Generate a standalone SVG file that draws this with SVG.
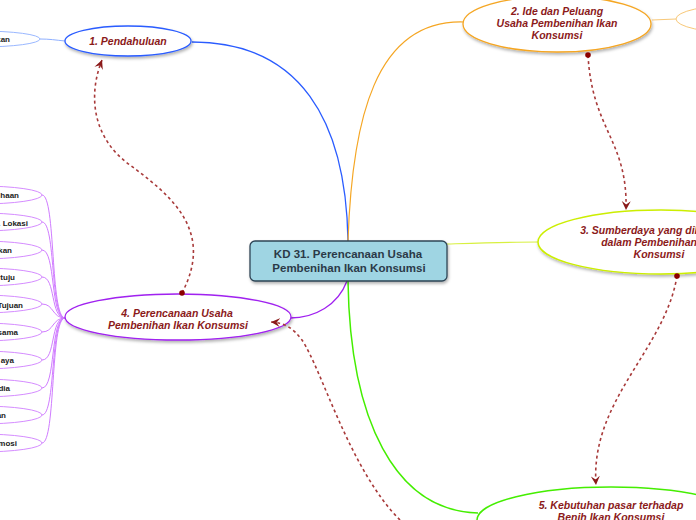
<svg xmlns="http://www.w3.org/2000/svg" width="696" height="520" viewBox="0 0 696 520">
<style>
.t{font-family:"Liberation Sans",Arial,sans-serif;font-weight:bold;font-style:italic;font-size:10.5px;fill:#8b1a1a;text-anchor:middle}
.c{font-family:"Liberation Sans",Arial,sans-serif;font-weight:bold;font-size:11.5px;fill:#2b3a48;text-anchor:middle}
.l{font-family:"Liberation Sans",Arial,sans-serif;font-weight:bold;font-size:8px;fill:#222;text-anchor:end}
.n{fill:#fff;filter:url(#sh)}
.lf{fill:#fff;stroke:#d58cff;stroke-width:1}
.pl{fill:none;stroke:#d07cff;stroke-width:1}
.d{fill:none;stroke:#a83a3a;stroke-width:1.6;stroke-dasharray:3 3}
.dot{fill:#8b0000}
</style>
<defs>
<filter id="sh" x="-10%" y="-20%" width="120%" height="150%">
<feDropShadow dx="1" dy="2" stdDeviation="1.5" flood-color="#000" flood-opacity="0.3"/>
</filter>
<marker id="ar" viewBox="0 0 10 10" refX="8" refY="5" markerWidth="7" markerHeight="7" orient="auto-start-reverse">
<path d="M0,1 L8,5 L0,9 L3,5 Z" fill="#8b1a1a"/>
</marker>
</defs>
<g id="connectors">
<path d="M348,241 C 346,120 300,42 192,42" fill="none" stroke="#2a5cff" stroke-width="1.3"/>
<path d="M65,41 C 55,40 50,39 40,39" fill="none" stroke="#8fb0ff" stroke-width="1"/>
<path d="M348,241 C 352,120 375,20 463,22" fill="none" stroke="#f5a623" stroke-width="1.2"/>
<path d="M652,20 L676,19" fill="none" stroke="#f8c878" stroke-width="1"/>
<path d="M447,244 C 480,243 510,242 538,242" fill="none" stroke="#d8f040" stroke-width="1.2"/>
<path d="M347,281 C 338,305 315,318 290,318" fill="none" stroke="#a020f0" stroke-width="1.3"/>
<path d="M348,281 C 350,420 395,511 478,513" fill="none" stroke="#44ee00" stroke-width="1.5"/>
<path class="pl" d="M65,318 C 50,318 56,195 42,195"/>
<path class="pl" d="M65,318 C 50,318 56,222 42,222"/>
<path class="pl" d="M65,318 C 50,318 56,250 42,250"/>
<path class="pl" d="M65,318 C 50,318 56,277 42,277"/>
<path class="pl" d="M65,318 C 52,318 54,304 42,304"/>
<path class="pl" d="M65,318 C 52,318 54,332 42,332"/>
<path class="pl" d="M65,318 C 50,318 56,360 42,360"/>
<path class="pl" d="M65,318 C 50,318 56,388 42,388"/>
<path class="pl" d="M65,318 C 50,318 56,415 42,415"/>
<path class="pl" d="M65,318 C 50,318 56,443 42,443"/>
</g>
<g id="center">
<rect x="250" y="241" width="197" height="40" rx="5" fill="#9fd5e3" stroke="#2e4556" stroke-width="1.3" filter="url(#sh)"/>
<text class="c" x="348" y="258">KD 31. Perencanaan Usaha</text>
<text class="c" x="349" y="272">Pembenihan Ikan Konsumsi</text>
</g>
<g id="node1">
<ellipse class="n" cx="128" cy="41" rx="63" ry="15" stroke="#2a5cff" stroke-width="1.3"/>
<text class="t" x="128" y="45">1. Pendahuluan</text>
</g>
<g id="node1-leaf">
<ellipse cx="-20" cy="39" rx="60" ry="8" fill="#fff" stroke="#9ab8ff" stroke-width="1"/>
<text class="l" x="10" y="42">kan</text>
</g>
<g id="node2">
<ellipse class="n" cx="557" cy="24" rx="94" ry="28" stroke="#f5a623" stroke-width="1.3"/>
<text class="t" x="557" y="15">2. Ide dan Peluang</text>
<text class="t" x="557" y="27">Usaha Pembenihan Ikan</text>
<text class="t" x="557" y="39">Konsumsi</text>
</g>
<g id="node2-leaf">
<ellipse cx="740" cy="19" rx="64" ry="14" fill="#fff" stroke="#f8c878" stroke-width="1"/>
</g>
<g id="node3">
<ellipse class="n" cx="661" cy="242" rx="123" ry="32" stroke="#ccee00" stroke-width="1.5"/>
<text class="t" x="661" y="234">3. Sumberdaya yang dibutuhkan</text>
<text class="t" x="661" y="246">dalam Pembenihan Ikan</text>
<text class="t" x="659" y="258">Konsumsi</text>
</g>
<g id="node4">
<ellipse class="n" cx="178" cy="317" rx="113" ry="23" stroke="#a020f0" stroke-width="1.3"/>
<text class="t" x="177" y="317">4. Perencanaan Usaha</text>
<text class="t" x="178" y="329">Pembenihan Ikan Konsumsi</text>
</g>
<g id="node5">
<ellipse class="n" cx="611" cy="520" rx="134" ry="33" stroke="#44ee00" stroke-width="1.5"/>
<text class="t" x="611" y="509">5. Kebutuhan pasar terhadap</text>
<text class="t" x="611" y="521">Benih Ikan Konsumsi</text>
</g>
<g id="leaves4">
<ellipse class="lf" cx="-20" cy="195" rx="62" ry="9"/><text class="l" x="19" y="198">haan</text>
<ellipse class="lf" cx="-20" cy="222" rx="62" ry="9"/><text class="l" x="28" y="226">. Lokasi</text>
<ellipse class="lf" cx="-20" cy="250" rx="62" ry="9"/><text class="l" x="12" y="253">kan</text>
<ellipse class="lf" cx="-20" cy="277" rx="62" ry="9"/><text class="l" x="15" y="280">tuju</text>
<ellipse class="lf" cx="-20" cy="304" rx="62" ry="9"/><text class="l" x="23" y="308">Tujuan</text>
<ellipse class="lf" cx="-20" cy="332" rx="62" ry="9"/><text class="l" x="18" y="335">sama</text>
<ellipse class="lf" cx="-20" cy="360" rx="62" ry="9"/><text class="l" x="14" y="363">aya</text>
<ellipse class="lf" cx="-20" cy="388" rx="62" ry="9"/><text class="l" x="10" y="391">dia</text>
<ellipse class="lf" cx="-20" cy="415" rx="62" ry="9"/><text class="l" x="6" y="418">an</text>
<ellipse class="lf" cx="-20" cy="443" rx="62" ry="9"/><text class="l" x="17" y="446">mosi</text>
</g>
<g id="links">
<path class="d" d="M182,293 C 215,230 170,195 130,165 C 92,138 88,95 102,60" marker-end="url(#ar)"/>
<path class="d" d="M588,55 C 592,130 628,140 626,210" marker-end="url(#ar)"/>
<path class="d" d="M677,276 C 665,350 590,400 596,485" marker-end="url(#ar)"/>
<path class="d" d="M400,520 C 350,470 322,370 302,340 C 293,328 285,323 271,322" marker-end="url(#ar)"/>
<circle class="dot" cx="182" cy="293" r="2.8"/>
<circle class="dot" cx="588" cy="55" r="2.8"/>
<circle class="dot" cx="677" cy="276" r="2.8"/>
</g>
</svg>
